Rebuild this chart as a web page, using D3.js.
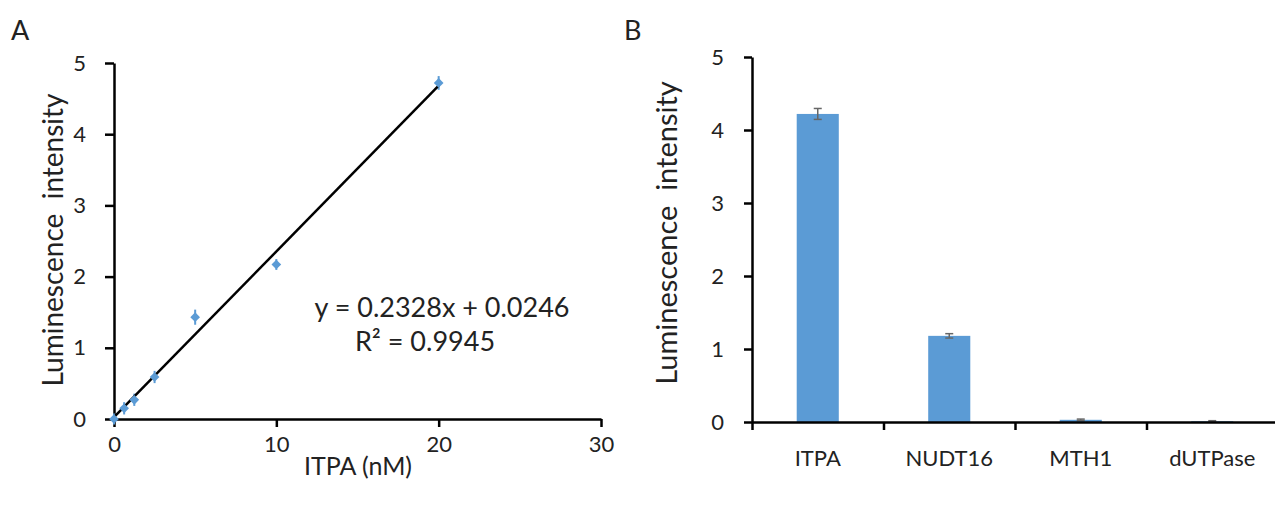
<!DOCTYPE html>
<html><head><meta charset="utf-8">
<script src="https://cdn.jsdelivr.net/npm/d3@7"></script>
<style>body{margin:0;background:#fff}text{font-family:Lato,sans-serif;fill:#222}</style>
</head><body>
<svg id="c" width="1275" height="507"></svg>
<script>
// Panel A data
const concX = [0, 0.625, 1.25, 2.5, 5, 10, 20];
const lumA = [0, 0.15, 0.27, 0.59, 1.43, 2.17, 4.72];
const errA = [0.02, 0.03, 0.03, 0.03, 0.05, 0.02, 0.04];
const slope = 0.2328, intercept = 0.0246;
const xTicksA = [0, 10, 20, 30];
const yTicks = [0, 1, 2, 3, 4, 5];
// Panel B data
const enzymes = ["ITPA", "NUDT16", "MTH1", "dUTPase"];
const lumB = [4.22, 1.18, 0.03, 0.01];
const errB = [0.075, 0.03, 0.01, 0.008];

const svg = d3.select("#c");
const blue = "#5B9BD5";
const fs = "22px";
const styleAxis = g => { g.select(".domain").attr("stroke-width", 2.5); g.selectAll(".tick line").attr("stroke-width", 2.5);
  g.selectAll("text").style("font-size", fs).attr("font-family", null).attr("fill", "#222"); };

// ---------- Panel A ----------
const xA = d3.scaleLinear().domain([0, 30]).range([114, 601]);
const yA = d3.scaleLinear().domain([0, 5]).range([419, 63]);
const gA = svg.append("g");
gA.append("g").attr("transform", "translate(0,419)")
  .call(d3.axisBottom(xA).tickValues(xTicksA).tickFormat(d3.format("d")).tickSize(8).tickPadding(9).tickSizeOuter(0))
  .call(styleAxis);
gA.append("g").attr("transform", "translate(114,0)")
  .call(d3.axisLeft(yA).tickValues(yTicks).tickFormat(d3.format("d")).tickSize(9).tickPadding(19).tickSizeOuter(0))
  .call(styleAxis);
// error bars
gA.selectAll(".eb").data(concX).enter().append("line")
  .attr("x1", d => xA(d)).attr("x2", d => xA(d))
  .attr("y1", (d, i) => yA(lumA[i] - errA[i]) + 4).attr("y2", (d, i) => yA(lumA[i] + errA[i]) - 4)
  .attr("stroke", blue).attr("stroke-width", 2);
// trendline
gA.append("line").attr("x1", xA(0)).attr("y1", yA(intercept)).attr("x2", xA(20)).attr("y2", yA(slope * 20 + intercept))
  .attr("stroke", "#000").attr("stroke-width", 2.5);
// markers
gA.selectAll(".pt").data(concX).enter().append("path")
  .attr("d", d3.symbol(d3.symbolDiamond2, 60))
  .attr("transform", (d, i) => `translate(${xA(d)},${yA(lumA[i])})`)
  .attr("fill", blue);
gA.append("text").attr("x", 442).attr("y", 317).attr("text-anchor", "middle").style("font-size", "27px").attr("xml:space", "preserve").text("y = 0.2328x + 0.0246");
gA.append("text").attr("x", 425).attr("y", 351).attr("text-anchor", "middle").style("font-size", "27px").text("R² = 0.9945");
gA.append("text").attr("x", 358).attr("y", 475).attr("text-anchor", "middle").style("font-size", "25px").text("ITPA (nM)");
gA.append("text").attr("transform", "translate(63,240) rotate(-90)").attr("text-anchor", "middle").style("font-size", "28px").attr("xml:space", "preserve").text("Luminescence  intensity");
svg.append("text").attr("x", 11).attr("y", 40).style("font-size", "27px").text("A");
svg.append("text").attr("x", 624).attr("y", 40).style("font-size", "27px").text("B");

// ---------- Panel B ----------
const xB = d3.scaleBand().domain(enzymes).range([752, 1278]).paddingInner(0.68).paddingOuter(0.34);
const yB = d3.scaleLinear().domain([0, 5]).range([422, 57]);
const gB = svg.append("g");
gB.selectAll(".bar").data(enzymes).enter().append("rect")
  .attr("x", d => xB(d)).attr("width", xB.bandwidth())
  .attr("y", (d, i) => yB(lumB[i])).attr("height", (d, i) => yB(0) - yB(lumB[i]))
  .attr("fill", blue);
gB.selectAll(".ebB").data(enzymes).enter().append("g").each(function (d, i) {
  const g = d3.select(this), cx = xB(d) + xB.bandwidth() / 2;
  const y1 = yB(lumB[i] - errB[i]), y2 = yB(lumB[i] + errB[i]);
  g.append("line").attr("x1", cx).attr("x2", cx).attr("y1", y1).attr("y2", y2);
  g.append("line").attr("x1", cx - 4).attr("x2", cx + 4).attr("y1", y1).attr("y2", y1);
  g.append("line").attr("x1", cx - 4).attr("x2", cx + 4).attr("y1", y2).attr("y2", y2);
  g.selectAll("line").attr("stroke", "#666").attr("stroke-width", 1.5);
});
// x axis with ticks between categories
const xBL = d3.scaleLinear().domain([0, 4]).range([752, 1278]);
gB.append("g").attr("transform", "translate(0,422)")
  .call(d3.axisBottom(xBL).tickValues([0, 1, 2, 3]).tickSize(8).tickFormat("").tickSizeOuter(0))
  .call(styleAxis);
gB.selectAll(".xl").data(enzymes).enter().append("text")
  .attr("x", d => xB(d) + xB.bandwidth() / 2).attr("y", 466).attr("text-anchor", "middle").style("font-size", "22px").text(d => d);
gB.append("g").attr("transform", "translate(752,0)")
  .call(d3.axisLeft(yB).tickValues(yTicks).tickFormat(d3.format("d")).tickSize(8).tickPadding(20).tickSizeOuter(0))
  .call(styleAxis);
gB.append("text").attr("transform", "translate(677,233) rotate(-90)").attr("text-anchor", "middle").style("font-size", "29px").attr("xml:space", "preserve").text("Luminescence  intensity");
</script>
</body></html>
